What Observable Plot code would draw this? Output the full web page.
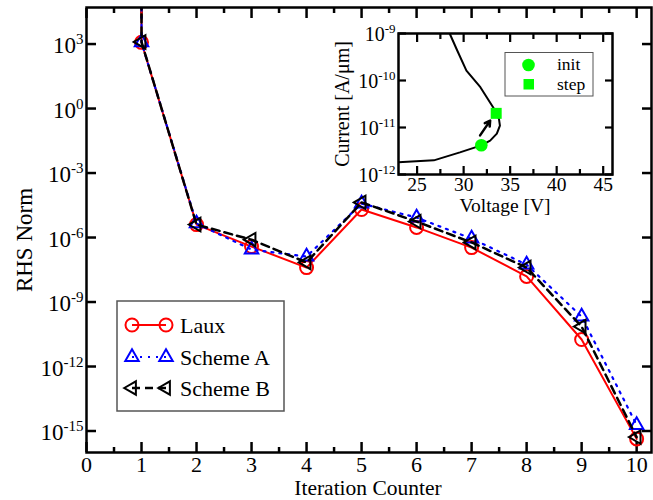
<!DOCTYPE html>
<html><head><meta charset="utf-8">
<script src="https://cdn.jsdelivr.net/npm/d3@7"></script>
<script src="https://cdn.jsdelivr.net/npm/@observablehq/plot@0.6"></script>
<style>
html,body{margin:0;padding:0;background:#fff;}
#chart{position:relative;width:653px;height:500px;}
#chart svg{position:absolute;overflow:visible;}
</style></head><body><div id="chart"></div>
<script>
// ---------- main chart data ----------
const iterations = [1, 2, 3, 4, 5, 6, 7, 8, 9, 10];
const lauxNorm    = [1.2e3, 4.0e-6, 3.8e-7, 4.0e-8, 2.0e-5, 2.95e-6, 3.4e-7, 1.55e-8, 1.8e-11, 4.3e-16];
const schemeANorm = [1.2e3, 4.5e-6, 2.75e-7, 1.3e-7, 3.8e-5, 8.5e-6, 8.9e-7, 5.5e-8, 2.1e-10, 1.9e-15];
const schemeBNorm = [1.25e3, 4.0e-6, 7.9e-7, 6.9e-8, 4.3e-5, 5.5e-6, 5.9e-7, 4.0e-8, 7.2e-11, 5.2e-16];
const initialNorm = 1e8; // starting residual, off the top of the axis
const seriesNames = ["Laux", "Scheme A", "Scheme B"];
const xTickValues = [0, 1, 2, 3, 4, 5, 6, 7, 8, 9, 10];
const xMinorTickValues = [0.5, 1.5, 2.5, 3.5, 4.5, 5.5, 6.5, 7.5, 8.5, 9.5];
const yTickValues = [1e3, 1e0, 1e-3, 1e-6, 1e-9, 1e-12, 1e-15];
const xTitle = "Iteration Counter";
const yTitle = "RHS Norm";

// ---------- inset data ----------
const voltage = [23, 26.8, 29.6, 31.9, 32.85, 33.57, 33.9, 33.8, 33.5, 33.2, 31.8, 30.3, 29.3, 28.5];
const current = [1.82e-12, 2.0e-12, 2.95e-12, 4.17e-12, 5.25e-12, 7.4e-12, 1.1e-11, 1.51e-11, 2.04e-11, 2.63e-11, 7.2e-11, 1.62e-10, 4.4e-10, 1e-9];
const markerNames = ["init", "step"];
const markerVoltage = [31.9, 33.5];
const markerCurrent = [4.2e-12, 2.0e-11];
const arrowVoltage = [31.77, 32.85];
const arrowCurrent = [6.8e-12, 1.4e-11];
const insetXTickValues = [25, 30, 35, 40, 45];
const insetXMinorTickValues = [27.5, 32.5, 37.5, 42.5];
const insetYTickValues = [1e-12, 1e-11, 1e-10, 1e-9];
const insetXTitle = "Voltage [V]";
const insetYTitle = "Current [A/\u03bcm]";

// ---------- build ----------
const FONT = "'Liberation Serif', 'Times New Roman', serif";
const seriesValues = [lauxNorm, schemeANorm, schemeBNorm];
const rows = seriesNames.map((s, k) => iterations.map((it, i) => ({series: s, it, v: seriesValues[k][i]})));
const lineRows = rows.map((r, k) => [{series: seriesNames[k], it: iterations[0], v: initialNorm}, ...r]);
const expFmt = d => `10^${Math.round(Math.log10(d))}`;

const tx = (values, anchor, size, sw = 2.5) => Plot.axisX(values, {anchor, tickSize: -size, fill: "none", strokeWidth: sw, label: null});
const ty = (values, anchor, size, sw = 2.5) => Plot.axisY(values, {anchor, tickSize: -size, fill: "none", strokeWidth: sw, label: null});

const main = Plot.plot({
  width: 653, height: 500,
  marginLeft: 86, marginRight: 2, marginTop: 7, marginBottom: 48,
  style: {fontFamily: FONT, fontSize: "23px", background: "transparent", color: "black"},
  x: {domain: [0, 10.27]},
  y: {type: "log", domain: [1e-16, 10 ** 4.7]},
  marks: [
    tx(xTickValues, "bottom", 10), tx(xMinorTickValues, "bottom", 5),
    tx(xTickValues, "top", 10), tx(xMinorTickValues, "top", 5),
    ty(yTickValues, "left", 10), ty(yTickValues, "right", 10),
    Plot.axisX(xTickValues, {anchor: "bottom", tickSize: 0, tickPadding: 3.5, label: null, fontSize: 22}),
    Plot.axisY(yTickValues, {anchor: "left", tickSize: 0, tickPadding: 3, tickFormat: expFmt, label: null, fontSize: 23, dy: 2}),
    Plot.line(lineRows[0], {x: "it", y: "v", stroke: "#ff0000", strokeWidth: 2, clip: true}),
    Plot.dot(rows[0], {x: "it", y: "v", r: 6.5, stroke: "#ff0000", strokeWidth: 2, fill: "none"}),
    Plot.line(lineRows[1], {x: "it", y: "v", stroke: "#0000ff", strokeWidth: 2.2, strokeDasharray: "2,6", clip: true}),
    Plot.dot(rows[1], {x: "it", y: "v", symbol: "triangle", r: 5, stroke: "#0000ff", strokeWidth: 2, fill: "none"}),
    Plot.line(lineRows[2], {x: "it", y: "v", stroke: "black", strokeWidth: 2.5, strokeDasharray: "8,5", clip: true}),
    Plot.dot(rows[2], {x: "it", y: "v", symbol: "triangle", rotate: -90, r: 5, stroke: "black", strokeWidth: 2, fill: "none"}),
    Plot.frame({stroke: "black", strokeWidth: 2.5})
  ]
});

const curveRows = voltage.map((v, i) => ({v, i: current[i]}));
const markerRows = markerNames.map((n, k) => ({n, v: markerVoltage[k], i: markerCurrent[k]}));
const arrowRows = [{v1: arrowVoltage[0], i1: arrowCurrent[0], v2: arrowVoltage[1], i2: arrowCurrent[1]}];

const inset = Plot.plot({
  width: 330, height: 220,
  marginLeft: 78, marginRight: 38, marginTop: 33, marginBottom: 46,
  style: {fontFamily: FONT, fontSize: "20px", background: "transparent", color: "black"},
  x: {domain: [23, 46]},
  y: {type: "log", domain: [1e-12, 1e-9]},
  marks: [
    Plot.frame({fill: "white"}),
    tx(insetXTickValues, "bottom", 8, 2.2), tx(insetXMinorTickValues, "bottom", 5, 2.2),
    tx(insetXTickValues, "top", 8, 2.2), tx(insetXMinorTickValues, "top", 5, 2.2),
    ty(insetYTickValues, "left", 8, 2.2), ty(insetYTickValues, "right", 8, 2.2),
    Plot.axisX(insetXTickValues, {anchor: "bottom", tickSize: 0, tickPadding: 3, label: null, fontSize: 19.5}),
    Plot.axisY(insetYTickValues, {anchor: "left", tickSize: 0, tickPadding: 3, tickFormat: expFmt, label: null, fontSize: 20, dy: 1}),
    Plot.line(curveRows, {x: "v", y: "i", stroke: "black", strokeWidth: 2, clip: true}),
    Plot.arrow(arrowRows, {x1: "v1", y1: "i1", x2: "v2", y2: "i2", stroke: "black", strokeWidth: 2.5, headLength: 10}),
    Plot.dot(markerRows.filter(d => d.n === "init"), {x: "v", y: "i", r: 6.3, fill: "#00ff00", stroke: "none"}),
    Plot.dot(markerRows.filter(d => d.n === "step"), {x: "v", y: "i", symbol: "square", r: 6.2, fill: "#00ff00", stroke: "none"}),
    Plot.frame({stroke: "black", strokeWidth: 2.5})
  ]
});

const wrap = document.getElementById("chart");
main.style.left = "0px"; main.style.top = "0px";
inset.style.left = "320px"; inset.style.top = "0px";
wrap.appendChild(main);
wrap.appendChild(inset);

// superscript exponents on log tick labels
function supers(svg, supSize, supDy) {
  d3.select(svg).selectAll('g[aria-label="y-axis tick label"] text').each(function () {
    const t = d3.select(this);
    const m = t.text().match(/^10\^(.+)$/);
    if (!m) return;
    t.text(null);
    t.append("tspan").text("10");
    t.append("tspan").attr("font-size", supSize).attr("dy", supDy).text(m[1]);
  });
}
supers(main, "15px", "-9");
supers(inset, "13px", "-8");

// axis titles
const ms = d3.select(main);
ms.append("text").attr("x", 368).attr("y", 495.3).attr("text-anchor", "middle")
  .attr("font-family", FONT).attr("font-size", 21.5).text(xTitle);
ms.append("text").attr("transform", "translate(32,240) rotate(-90)").attr("text-anchor", "middle")
  .attr("font-family", FONT).attr("font-size", 23).text(yTitle);

const is = d3.select(inset);
is.append("text").attr("x", 185).attr("y", 212).attr("text-anchor", "middle")
  .attr("font-family", FONT).attr("font-size", 19.5).text(insetXTitle);
is.append("text").attr("transform", "translate(29,104) rotate(-90)").attr("text-anchor", "middle")
  .attr("font-family", FONT).attr("font-size", 20).text(insetYTitle);

// main legend
const lg = ms.append("g").attr("font-family", FONT).attr("font-size", 22).attr("text-anchor", "start");
lg.append("rect").attr("x", 117).attr("y", 301).attr("width", 167).attr("height", 110)
  .attr("fill", "white").attr("stroke", "#555").attr("stroke-width", 1.5);
const legendStyles = [
  {stroke: "#ff0000", dash: null, sw: 2, sym: "circle"},
  {stroke: "#0000ff", dash: "2,6", sw: 2.2, sym: "up"},
  {stroke: "black", dash: "8,5", sw: 2.5, sym: "left"}
];
const rowY = [325, 357, 388];
seriesNames.forEach((name, k) => {
  const st = legendStyles[k], y = rowY[k];
  lg.append("line").attr("x1", 132).attr("x2", 166).attr("y1", y).attr("y2", y)
    .attr("stroke", st.stroke).attr("stroke-width", st.sw).attr("stroke-dasharray", st.dash);
  [132, 166].forEach(x => {
    if (st.sym === "circle") {
      lg.append("circle").attr("cx", x).attr("cy", y).attr("r", 6.5).attr("fill", "none")
        .attr("stroke", st.stroke).attr("stroke-width", 2);
    } else {
      lg.append("path").attr("d", d3.symbol(d3.symbolTriangle, Math.PI * 25)())
        .attr("transform", `translate(${x},${y}) rotate(${st.sym === "left" ? -90 : 0})`)
        .attr("fill", "none").attr("stroke", st.stroke).attr("stroke-width", 2);
    }
  });
  lg.append("text").attr("x", 180).attr("y", y + 8).text(name);
});

// inset legend (inset coordinates: page x - 320)
const il = is.append("g").attr("font-family", FONT).attr("font-size", 17.5).attr("text-anchor", "start");
il.append("rect").attr("x", 185).attr("y", 52.5).attr("width", 88).attr("height", 43.5)
  .attr("fill", "white").attr("stroke", "#555").attr("stroke-width", 1);
il.append("circle").attr("cx", 208.5).attr("cy", 65).attr("r", 6.3).attr("fill", "#00ff00");
il.append("rect").attr("x", 203.5).attr("y", 79).attr("width", 10.5).attr("height", 10.5).attr("fill", "#00ff00");
il.append("text").attr("x", 237).attr("y", 70).text(markerNames[0]);
il.append("text").attr("x", 237).attr("y", 89.5).text(markerNames[1]);
</script></body></html>
